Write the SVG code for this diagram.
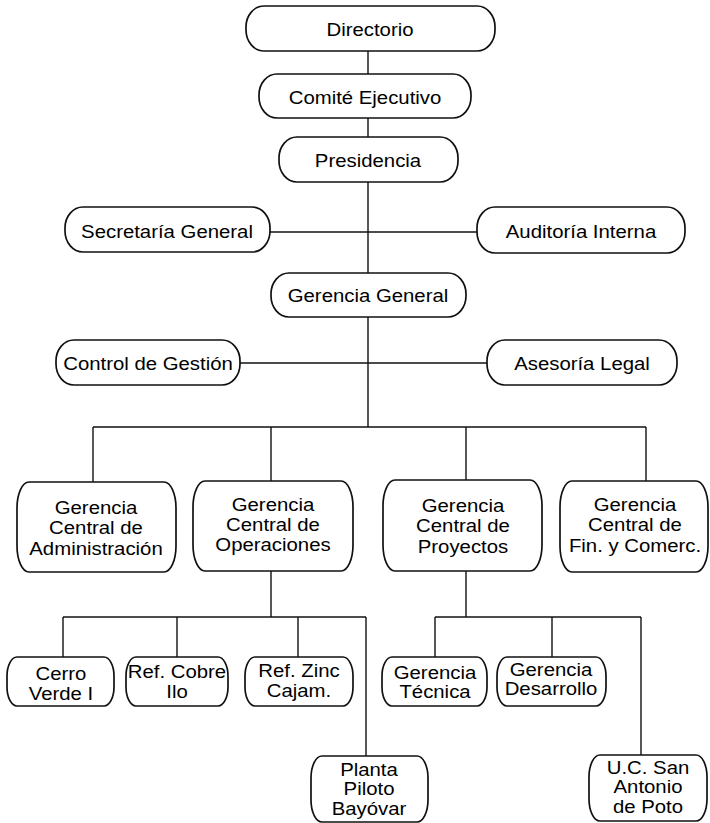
<svg xmlns="http://www.w3.org/2000/svg" width="710" height="823" viewBox="0 0 710 823">
<style>
  .bx { fill: #fff; stroke: #111; stroke-width: 1.7; }
  .cn line { stroke: #111; stroke-width: 1.4; }
  text { font-family: "Liberation Sans", Arial, sans-serif; font-size: 18.5px; fill: #000; text-anchor: middle; }
</style>
<rect width="710" height="823" fill="#fff"/>
<g class="cn" id="connectors">
  <line x1="368" y1="51" x2="368" y2="74"/>
  <line x1="368" y1="118" x2="368" y2="137"/>
  <line x1="368" y1="182" x2="368" y2="273"/>
  <line x1="270" y1="232" x2="477" y2="232"/>
  <line x1="368" y1="317" x2="368" y2="427"/>
  <line x1="240" y1="363" x2="487" y2="363"/>
  <line x1="93" y1="427" x2="646" y2="427"/>
  <line x1="93" y1="427" x2="93" y2="482"/>
  <line x1="271" y1="427" x2="271" y2="481"/>
  <line x1="466" y1="427" x2="466" y2="481"/>
  <line x1="646" y1="427" x2="646" y2="481"/>
  <line x1="271" y1="571" x2="271" y2="617"/>
  <line x1="63" y1="617" x2="366" y2="617"/>
  <line x1="63" y1="617" x2="63" y2="657"/>
  <line x1="177" y1="617" x2="177" y2="657"/>
  <line x1="298" y1="617" x2="298" y2="657"/>
  <line x1="366" y1="617" x2="366" y2="756"/>
  <line x1="466" y1="571" x2="466" y2="617"/>
  <line x1="435" y1="617" x2="641" y2="617"/>
  <line x1="435" y1="617" x2="435" y2="657"/>
  <line x1="552" y1="617" x2="552" y2="657"/>
  <line x1="641" y1="617" x2="641" y2="755"/>
</g>
<g id="directorio">
  <rect class="bx" x="246" y="6" width="249" height="45" rx="18" ry="21"/>
  <text transform="translate(370,36) scale(1.1,1)">Directorio</text>
</g>
<g id="comite">
  <rect class="bx" x="259" y="74" width="212" height="44" rx="18" ry="21"/>
  <text transform="translate(365,104) scale(1.1,1)">Comité Ejecutivo</text>
</g>
<g id="presidencia">
  <rect class="bx" x="279" y="137" width="179" height="45" rx="18" ry="21"/>
  <text transform="translate(368,167) scale(1.1,1)">Presidencia</text>
</g>
<g id="secretaria">
  <rect class="bx" x="65" y="207" width="205" height="45" rx="18" ry="21"/>
  <text transform="translate(167,238) scale(1.1,1)">Secretaría General</text>
</g>
<g id="auditoria">
  <rect class="bx" x="477" y="207" width="208" height="46" rx="18" ry="21"/>
  <text transform="translate(581,238) scale(1.1,1)">Auditoría Interna</text>
</g>
<g id="gerencia-general">
  <rect class="bx" x="271" y="273" width="195" height="44" rx="18" ry="21"/>
  <text transform="translate(368,302) scale(1.1,1)">Gerencia General</text>
</g>
<g id="control">
  <rect class="bx" x="56" y="340" width="184" height="45" rx="18" ry="21"/>
  <text transform="translate(148,370) scale(1.1,1)">Control de Gestión</text>
</g>
<g id="asesoria">
  <rect class="bx" x="487" y="340" width="190" height="45" rx="18" ry="21"/>
  <text transform="translate(582,370) scale(1.1,1)">Asesoría Legal</text>
</g>
<g id="gc-administracion">
  <rect class="bx" x="17" y="482" width="159" height="90" rx="12" ry="26"/>
  <text transform="translate(96,514) scale(1.1,1)"><tspan x="0" y="0">Gerencia</tspan><tspan x="0" y="20.5">Central de</tspan><tspan x="0" y="41">Administración</tspan></text>
</g>
<g id="gc-operaciones">
  <rect class="bx" x="193" y="481" width="160" height="90" rx="12" ry="26"/>
  <text transform="translate(273,511) scale(1.1,1)"><tspan x="0" y="0">Gerencia</tspan><tspan x="0" y="20">Central de</tspan><tspan x="0" y="40">Operaciones</tspan></text>
</g>
<g id="gc-proyectos">
  <rect class="bx" x="383" y="480" width="159" height="91" rx="12" ry="26"/>
  <text transform="translate(463,512) scale(1.1,1)"><tspan x="0" y="0">Gerencia</tspan><tspan x="0" y="20.5">Central de</tspan><tspan x="0" y="41">Proyectos</tspan></text>
</g>
<g id="gc-finanzas">
  <rect class="bx" x="560" y="481" width="148" height="91" rx="12" ry="26"/>
  <text transform="translate(635,511) scale(1.1,1)"><tspan x="0" y="0">Gerencia</tspan><tspan x="0" y="20.5">Central de</tspan><tspan x="0" y="41">Fin. y Comerc.</tspan></text>
</g>
<g id="cerro-verde">
  <rect class="bx" x="7" y="657" width="107" height="49" rx="10" ry="19"/>
  <text transform="translate(61,680) scale(1.1,1)"><tspan x="0" y="0">Cerro</tspan><tspan x="0" y="20">Verde I</tspan></text>
</g>
<g id="ref-cobre">
  <rect class="bx" x="126" y="657" width="102" height="49" rx="10" ry="19"/>
  <text transform="translate(177,678) scale(1.1,1)"><tspan x="0" y="0">Ref. Cobre</tspan><tspan x="0" y="20">Ilo</tspan></text>
</g>
<g id="ref-zinc">
  <rect class="bx" x="245" y="657" width="108" height="49" rx="10" ry="19"/>
  <text transform="translate(299,677) scale(1.1,1)"><tspan x="0" y="0">Ref. Zinc</tspan><tspan x="0" y="20">Cajam.</tspan></text>
</g>
<g id="planta-piloto">
  <rect class="bx" x="311" y="756" width="117" height="66" rx="11" ry="22"/>
  <text transform="translate(369,776) scale(1.1,1)"><tspan x="0" y="0">Planta</tspan><tspan x="0" y="19.5">Piloto</tspan><tspan x="0" y="39">Bayóvar</tspan></text>
</g>
<g id="gerencia-tecnica">
  <rect class="bx" x="382" y="657" width="105" height="49" rx="10" ry="19"/>
  <text transform="translate(435,679) scale(1.1,1)"><tspan x="0" y="0">Gerencia</tspan><tspan x="0" y="19.5">Técnica</tspan></text>
</g>
<g id="gerencia-desarrollo">
  <rect class="bx" x="497" y="657" width="109" height="49" rx="10" ry="19"/>
  <text transform="translate(551,676) scale(1.1,1)"><tspan x="0" y="0">Gerencia</tspan><tspan x="0" y="19.5">Desarrollo</tspan></text>
</g>
<g id="uc-san-antonio">
  <rect class="bx" x="589" y="755" width="118" height="66" rx="11" ry="22"/>
  <text transform="translate(648,774) scale(1.1,1)"><tspan x="0" y="0">U.C. San</tspan><tspan x="0" y="19.5">Antonio</tspan><tspan x="0" y="39">de Poto</tspan></text>
</g>
</svg>
